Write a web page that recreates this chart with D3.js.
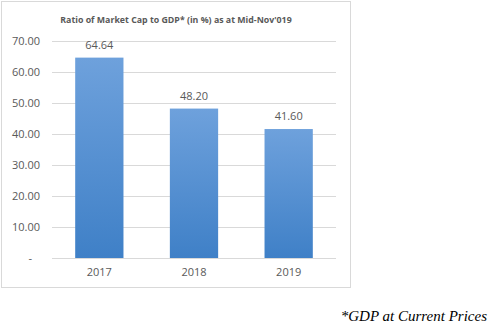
<!DOCTYPE html>
<html>
<head>
<meta charset="utf-8">
<script src="https://cdn.jsdelivr.net/npm/d3@7"></script>
<style>
  body { margin: 0; background: #fff; }
  svg { display: block; }
  .tick-text { font-family: "Open Sans", "Noto Sans", sans-serif; font-size: 11px; fill: #595959; }
</style>
</head>
<body>
<svg id="chart" width="496" height="333"></svg>
<script>
var svg = d3.select('#chart');

// chart data
var years = ['2017', '2018', '2019'];
var ratios = [64.64, 48.20, 41.60];
var yTicks = [0, 10, 20, 30, 40, 50, 60, 70];

var plot = { left: 52, right: 336, top: 41, bottom: 258 };

var x = d3.scaleBand()
  .domain(years)
  .range([plot.left, plot.right])
  .paddingInner(0.49)
  .paddingOuter(0.245);

var y = d3.scaleLinear()
  .domain([0, 70])
  .range([plot.bottom, plot.top]);

// bar gradient, lighter at top
var grad = svg.append('defs')
  .append('linearGradient')
    .attr('id', 'barGrad')
    .attr('x1', 0).attr('y1', 0)
    .attr('x2', 0).attr('y2', 1);
grad.append('stop').attr('offset', '0%').attr('stop-color', '#6ea1dc');
grad.append('stop').attr('offset', '100%').attr('stop-color', '#3f80c7');

// outer frame
svg.append('rect')
  .attr('x', 1.5)
  .attr('y', 1.5)
  .attr('width', 349)
  .attr('height', 286)
  .attr('fill', '#fff')
  .attr('stroke', '#d9d9d9');

svg.append('text')
  .attr('x', 176)
  .attr('y', 23)
  .attr('text-anchor', 'middle')
  .style('font-family', '"Open Sans", "Noto Sans", sans-serif')
  .style('font-size', '8.8px')
  .style('font-weight', 'bold')
  .style('fill', '#595959')
  .text("Ratio of Market Cap to GDP* (in %) as at Mid-Nov'019");

// gridlines
svg.append('g')
  .selectAll('line')
  .data(yTicks)
  .enter()
  .append('line')
    .attr('x1', plot.left)
    .attr('x2', plot.right)
    .attr('y1', d => Math.round(y(d)) + 0.5)
    .attr('y2', d => Math.round(y(d)) + 0.5)
    .attr('stroke', '#d9d9d9');

// y axis labels
var yAxis = d3.axisLeft(y)
  .tickValues(yTicks)
  .tickSize(0)
  .tickPadding(0)
  .tickFormat(d => d === 0 ? '-' : d.toFixed(2));

svg.append('g')
  .attr('transform', 'translate(40,0)')
  .call(yAxis)
  .call(g => g.select('.domain').remove())
  .selectAll('text')
    .attr('class', 'tick-text')
    .attr('font-family', null)
    .attr('font-size', null)
    .attr('fill', null)
    .attr('dx', d => d === 0 ? -8 : 0);

svg.append('g')
  .selectAll('rect')
  .data(years)
  .enter()
  .append('rect')
    .attr('x', d => x(d))
    .attr('y', (d, i) => y(ratios[i]))
    .attr('width', x.bandwidth())
    .attr('height', (d, i) => y(0) - y(ratios[i]))
    .attr('fill', 'url(#barGrad)');

// value labels
svg.append('g')
  .selectAll('text')
  .data(years)
  .enter()
  .append('text')
    .attr('class', 'tick-text')
    .attr('x', d => x(d) + x.bandwidth() / 2)
    .attr('y', (d, i) => y(ratios[i]) - 9)
    .attr('text-anchor', 'middle')
    .text((d, i) => ratios[i].toFixed(2));

// x axis labels
var xAxis = d3.axisBottom(x)
  .tickSize(0)
  .tickPadding(0);

svg.append('g')
  .attr('transform', 'translate(0,' + (plot.bottom + 10) + ')')
  .call(xAxis)
  .call(g => g.select('.domain').remove())
  .selectAll('text')
    .attr('class', 'tick-text')
    .attr('font-family', null)
    .attr('font-size', null)
    .attr('fill', null);

// footnote
svg.append('text')
  .attr('x', 487)
  .attr('y', 321)
  .attr('text-anchor', 'end')
  .style('font-family', '"Liberation Serif", "DejaVu Serif", serif')
  .style('font-style', 'italic')
  .style('font-size', '15px')
  .style('fill', '#000')
  .text('*GDP at Current Prices');
</script>
</body>
</html>
